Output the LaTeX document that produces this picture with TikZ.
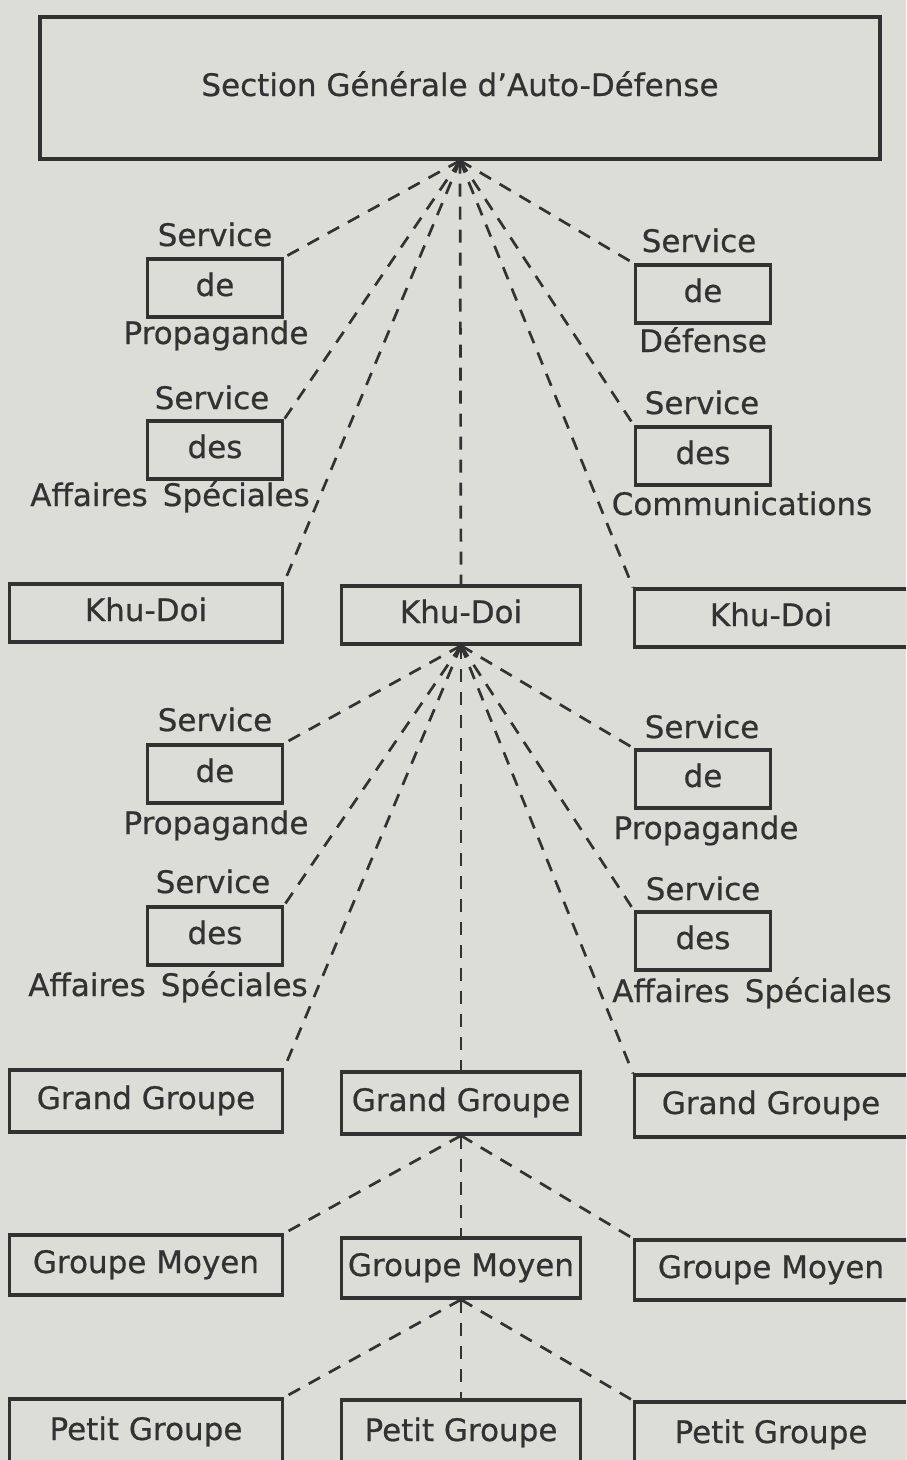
\documentclass[tikz,border=0pt]{standalone}
\usepackage{fontspec}
\setmainfont{DejaVu Sans}[FakeBold=0.6]
\usetikzlibrary{arrows}
\definecolor{paper}{RGB}{221,221,216}
\definecolor{ink}{RGB}{50,50,50}
\tikzstyle{box}=[draw=ink, line width=3.2pt, text=ink, minimum height=58pt, inner sep=0pt, text height=22pt, text depth=6pt]
\tikzstyle{wide}=[box, minimum width=273pt]
\tikzstyle{mid}=[box, minimum width=239pt]
\tikzstyle{small}=[box, minimum width=135pt]
\tikzstyle{lbl}=[text=ink, inner sep=0pt, text height=22pt, text depth=6pt]
\tikzstyle{link}=[draw=ink, line width=2.7pt, dash pattern=on 13pt off 10pt]
\begin{document}
\begin{tikzpicture}[x=1pt, y=-1pt, font=\fontsize{31}{36}\selectfont]
\fill[paper] (0,0) rectangle (906,1460);
\useasboundingbox (0,0) rectangle (906,1460);
\clip (0,0) rectangle (906,1460);
% top
\node[box, minimum width=840pt, minimum height=142pt] (T) at (460,88){Section Générale d'Auto-Défense};
% first level
\node[small] (SP) at (215,288){de};
\node[lbl] (SPa) at (215,238){Service};
\node[lbl] (SPb) at (216,336){Propagande};
\node[small] (SA) at (215,450){des};
\node[lbl] (SAa) at (212,401){Service};
\node[lbl] (SAb) at (170,498){Affaires\, Spéciales};
\node[small] (SD) at (703,294){de};
\node[lbl] (SDa) at (699,244){Service};
\node[lbl] (SDb) at (703,344){Défense};
\node[small] (SC) at (703,456){des};
\node[lbl] (SCa) at (702,406){Service};
\node[lbl] (SCb) at (742,507){Communications};
\node[wide] (K1) at (146,613){Khu-Doi};
\node[mid] (K2) at (461,615){Khu-Doi};
\node[wide] (K3) at (771,618){Khu-Doi};
\draw[link] (T.south) to (SP.north east);
\draw[link] (T.south) to (SA.north east);
\draw[link] (T.south) to (K1.north east);
\draw[link] (T.south) to (K2.north);
\draw[link] (T.south) to (K3.north west);
\draw[link] (T.south) to (SC.north west);
\draw[link] (T.south) to (SD.north west);
% second level
\node[small] (LP) at (215,774){de};
\node[lbl] (LPa) at (215,723){Service};
\node[lbl] (LPb) at (216,826){Propagande};
\node[small] (LA) at (215,936){des};
\node[lbl] (LAa) at (213,885){Service};
\node[lbl] (LAb) at (168,988){Affaires\, Spéciales};
\node[small] (RP) at (703,779){de};
\node[lbl] (RPa) at (702,730){Service};
\node[lbl] (RPb) at (706,831){Propagande};
\node[small] (RA) at (703,941){des};
\node[lbl] (RAa) at (703,892){Service};
\node[lbl] (RAb) at (752,994){Affaires\, Spéciales};
\node[wide, minimum height=62pt] (G1) at (146,1101){Grand Groupe};
\node[mid, minimum height=62pt] (G2) at (461,1103){Grand Groupe};
\node[wide, minimum height=62pt] (G3) at (771,1106){Grand Groupe};
\draw[link] (K2.south) to (LP.north east);
\draw[link] (K2.south) to (LA.north east);
\draw[link] (K2.south) to (G1.north east);
\draw[link] (K2.south) to (G2.north);
\draw[link] (K2.south) to (G3.north west);
\draw[link] (K2.south) to (RA.north west);
\draw[link] (K2.south) to (RP.north west);
% third level
\node[wide, minimum height=60pt] (M1) at (146,1265){Groupe Moyen};
\node[mid, minimum height=60pt] (M2) at (461,1268){Groupe Moyen};
\node[wide, minimum height=60pt] (M3) at (771,1270){Groupe Moyen};
\draw[link] (G2.south) to (M1.north east);
\draw[link] (G2.south) to (M2.north);
\draw[link] (G2.south) to (M3.north west);
% fourth level
\node[wide, minimum height=66pt] (P1) at (146,1432){Petit Groupe};
\node[mid, minimum height=66pt] (P2) at (461,1433){Petit Groupe};
\node[wide, minimum height=66pt] (P3) at (771,1435){Petit Groupe};
\draw[link] (M2.south) to (P1.north east);
\draw[link] (M2.south) to (P2.north);
\draw[link] (M2.south) to (P3.north west);
\end{tikzpicture}
\end{document}
